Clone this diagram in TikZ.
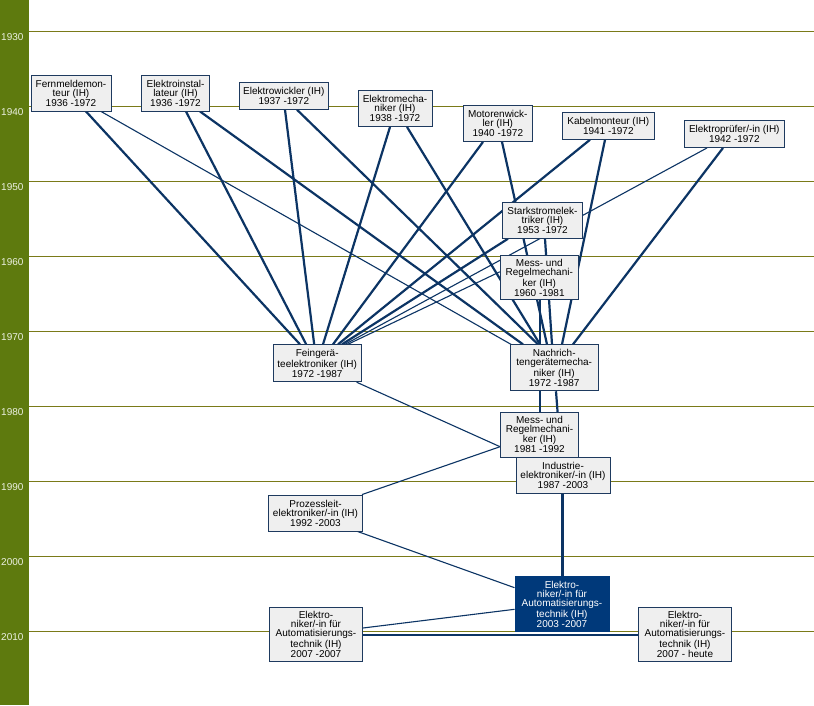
\documentclass[tikz,border=0pt]{standalone}
\usepackage{fontspec}
\setmainfont{Liberation Sans}
\usetikzlibrary{calc}
\definecolor{navy}{RGB}{12,52,100}
\definecolor{boxline}{RGB}{30,58,95}
\definecolor{boxfill}{RGB}{239,239,239}
\definecolor{hlfill}{RGB}{0,57,122}
\definecolor{barcol}{RGB}{94,122,14}
\definecolor{gridcol}{RGB}{122,122,24}
\definecolor{yeartxt}{RGB}{235,240,225}
\pgfdeclarelayer{bg}
\pgfsetlayers{bg,main}
\begin{document}
\begin{tikzpicture}[x=1pt,y=-1pt,
  berufbox/.style={draw=boxline, line width=0.9pt, fill=boxfill, align=center,
    inner xsep=2pt, inner ysep=1pt, font=\fontsize{10}{9}\selectfont, text=black},
  hlbox/.style={berufbox, fill=hlfill, draw=hlfill, text=white},
  thickedge/.style={draw=navy, line width=2.2pt},
  thinedge/.style={draw=navy, line width=1.1pt},
  gridline/.style={draw=gridcol, line width=1pt},
  yearlabel/.style={anchor=base west, inner sep=0pt, text=yeartxt,
    font=\fontsize{10}{10}\selectfont}]
\useasboundingbox (0,0) rectangle (814,705);

% boxes
\node[berufbox, minimum width=80pt, minimum height=36pt] (fern) at (71,93) {Fernmeldemon-\\teur (IH)\\1936 -1972};
\node[berufbox, minimum width=68pt, minimum height=36pt] (inst) at (175.5,93) {Elektroinstal-\\lateur (IH)\\1936 -1972};
\node[berufbox, minimum width=89pt, minimum height=27pt] (wick) at (283.8,95.8) {Elektrowickler (IH)\\1937 -1972};
\node[berufbox, minimum width=74pt, minimum height=36pt] (mech) at (395,108.5) {Elektromecha-\\niker (IH)\\1938 -1972};
\node[berufbox, minimum width=69pt, minimum height=36pt] (motor) at (497.8,123.5) {Motorenwick-\\ler (IH)\\1940 -1972};
\node[berufbox, minimum width=92pt, minimum height=27pt] (kabel) at (608.3,125.8) {Kabelmonteur (IH)\\1941 -1972};
\node[berufbox, minimum width=100pt, minimum height=27pt] (pruef) at (734.3,134) {Elektroprüfer/-in (IH)\\1942 -1972};
\node[berufbox, minimum width=80pt, minimum height=36pt] (stark) at (542.5,220.3) {Starkstromelek-\\triker (IH)\\1953 -1972};
\node[berufbox, minimum width=78pt, minimum height=44pt] (mr60) at (539.3,277.8) {Mess- und\\Regelmechani-\\ker (IH)\\1960 -1981};
\node[berufbox, minimum width=88pt, minimum height=37pt] (fein) at (317.2,363.3) {Feingerä-\\teelektroniker (IH)\\1972 -1987};
\node[berufbox, minimum width=88pt, minimum height=46pt] (nach) at (554.2,367.8) {Nachrich-\\tengerätemecha-\\niker (IH)\\1972 -1987};
\node[berufbox, minimum width=78pt, minimum height=45pt] (mr81) at (539.5,434.7) {Mess- und\\Regelmechani-\\ker (IH)\\1981 -1992};
\node[berufbox, minimum width=94pt, minimum height=36pt] (indu) at (563,475.3) {Industrie-\\elektroniker/-in (IH)\\1987 -2003};
\node[berufbox, minimum width=94pt, minimum height=36pt] (proz) at (315.5,513) {Prozessleit-\\elektroniker/-in (IH)\\1992 -2003};
\node[hlbox, minimum width=94pt, minimum height=55pt] (eat03) at (562,604.3) {Elektro-\\niker/-in für\\Automatisierungs-\\technik (IH)\\2003 -2007};
\node[berufbox, minimum width=93pt, minimum height=54pt] (eat07) at (316,634.5) {Elektro-\\niker/-in für\\Automatisierungs-\\technik (IH)\\2007 -2007};
\node[berufbox, minimum width=93pt, minimum height=54pt] (eatH) at (685,634.5) {Elektro-\\niker/-in für\\Automatisierungs-\\technik (IH)\\2007 - heute};

\begin{pgfonlayer}{bg}
\fill[white] (0,0) rectangle (814,705);
\foreach \i in {0,...,8} {
  \pgfmathsetmacro\yy{31+75*\i}
  \draw[gridline] (29,\yy) -- (814,\yy);
}
% connectors
\draw[thickedge] ($(fern.south)+(15,0)$) -- ($(fein.north)+(-17.2,0)$);
\draw[thinedge] ($(fern.south)+(30,0)$) -- ($(nach.north)+(-43.2,0)$);
\draw[thickedge] ($(inst.south)+(10.5,0)$) -- ($(fein.north)+(-11,0)$);
\draw[thickedge] ($(inst.south)+(24.5,0)$) -- ($(nach.north)+(-31.2,0)$);
\draw[thickedge] ($(wick.south)+(1.2,0)$) -- ($(fein.north)+(-3,0)$);
\draw[thickedge] ($(wick.south)+(13.2,0)$) -- ($(nach.north)+(-16.2,0)$);
\draw[thickedge] ($(mech.south)+(-5,0)$) -- ($(fein.north)+(5.8,0)$);
\draw[thickedge] ($(mech.south)+(12,0)$) -- ($(nach.north)+(-14.2,0)$);
\draw[thickedge] ($(motor.south)+(-14.8,0)$) -- ($(fein.north)+(15.8,0)$);
\draw[thickedge] ($(motor.south)+(4.2,0)$) -- ($(nach.north)+(-7.2,0)$);
\draw[thickedge] ($(kabel.south)+(-18.3,0)$) -- ($(fein.north)+(20.8,0)$);
\draw[thickedge] ($(kabel.south)+(-3.3,0)$) -- ($(nach.north)+(7.8,0)$);
\draw[thinedge] ($(pruef.south)+(-27.3,0)$) -- ($(fein.north)+(27.8,0)$);
\draw[thickedge] ($(pruef.south)+(-11.3,0)$) -- ($(nach.north)+(18.8,0)$);
\draw[thickedge] ($(stark.south)+(-34.5,0)$) -- ($(fein.north)+(24.8,0)$);
\draw[thickedge] ($(stark.south)+(2.5,0)$) -- ($(nach.north)+(-2.2,0)$);
\draw[thinedge] ($(mr60.west)+(0,-6)$) -- ($(fein.north)+(30.5,0)$);
\draw[thickedge] ($(mr60.south)+(0.7,0)$) -- ($(mr81.north)+(0.5,0)$);
\draw[thickedge] ($(nach.south)+(1.8,0)$) -- ($(indu.north)+(-2,0)$);
\draw[thinedge] ($(fein.south)+(39.5,0)$) -- ($(mr81.west)+(0,12)$);
\draw[thinedge] ($(mr81.west)+(0,12)$) -- ($(proz.north)+(46.5,0)$);
\draw[thinedge] ($(proz.south)+(42,0)$) -- ($(eat03.west)+(0,-16.6)$);
\draw[thickedge] ($(indu.south)+(-0.5,0)$) -- ($(eat03.north)+(0.5,0)$);
\draw[thinedge] ($(eat03.west)+(0,5)$) -- ($(eat07.east)+(0,-6.5)$);
\draw[thickedge] ($(eat07.east)+(0,0.5)$) -- ($(eatH.west)+(0,0.5)$);
\end{pgfonlayer}

% year bar
\fill[barcol] (0,0) rectangle (29,705);
\foreach \i in {0,...,8} {
  \pgfmathsetmacro\yb{40.5+75*\i}
  \pgfmathtruncatemacro\yr{1930+10*\i}
  \node[yearlabel] (year\i) at (1,\yb) {\yr};
}
\end{tikzpicture}
\end{document}
